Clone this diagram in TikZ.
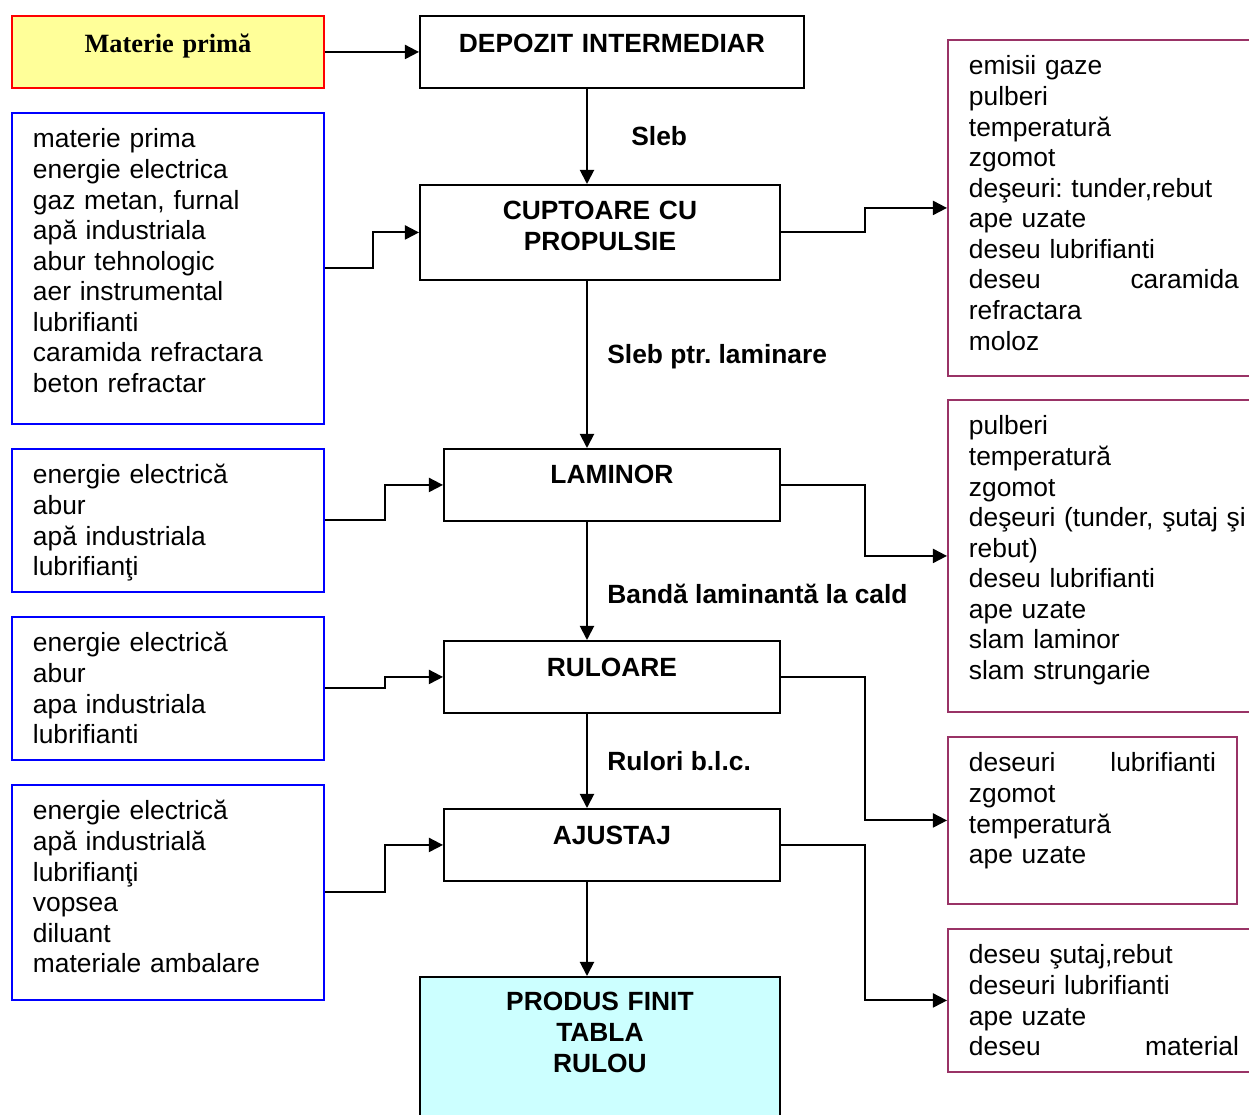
\documentclass[tikz,border=0pt]{standalone}
\usepackage{fontspec}
\setmainfont{Liberation Sans}
\newfontfamily\timesfont{Liberation Serif}
\usetikzlibrary{arrows.meta}

\definecolor{rawfill}{HTML}{FFFF99}
\definecolor{endfill}{HTML}{CCFFFF}
\definecolor{wastecol}{HTML}{993366}

\begin{document}
\frenchspacing
\begin{tikzpicture}[x=0.02cm, y=-0.02cm]
  \tikzset{
    every node/.style={font=\fontsize{15}{17.4}\selectfont},
    stage/.style={draw, line width=1.1pt, anchor=north west, inner sep=0pt,
      align=center, font=\fontsize{15}{17.4}\selectfont\bfseries},
    inbox/.style={draw=blue, line width=1.1pt, anchor=north west, inner xsep=0.42cm,
      inner ysep=0pt, align=left, text width=5.4cm, text height=0.7cm},
    outbox/.style={draw=wastecol, line width=1.1pt, anchor=north west, inner xsep=0.42cm,
      inner ysep=0pt, align=left, text width=5.4cm, text height=0.7cm},
    flowlabel/.style={anchor=base west, inner sep=0pt, font=\fontsize{15}{17.4}\selectfont\bfseries},
    myarrow/.style={-{Triangle[length=8pt, width=8pt]}, line width=1.1pt},
  }
  \useasboundingbox (0,0) rectangle (1249,1115);

  % main line
  \node[stage, fill=rawfill, draw=red, text width=6.24cm, text height=0.74cm, text depth=0.70cm,
    font=\timesfont\fontsize{15}{17.4}\selectfont\bfseries] (raw) at (11,15) {Materie primă};
  \node[stage, text width=7.68cm, text height=0.74cm, text depth=0.70cm] (depozit) at (419,15) {DEPOZIT INTERMEDIAR};
  \node[stage, text width=7.2cm, text height=0.70cm, text depth=1.2cm] (cuptor) at (419,184) {CUPTOARE CU\\PROPULSIE};
  \node[stage, text width=6.72cm, text height=0.70cm, text depth=0.74cm] (laminor) at (443,448) {LAMINOR};
  \node[stage, text width=6.72cm, text height=0.72cm, text depth=0.72cm] (ruloare) at (443,640) {RULOARE};
  \node[stage, text width=6.72cm, text height=0.72cm, text depth=0.72cm] (ajustaj) at (443,808) {AJUSTAJ};
  \node[stage, fill=endfill, text width=7.2cm, text height=0.68cm, text depth=3.2cm] (produs) at (419,976) {PRODUS FINIT\\TABLA\\RULOU};

  % inputs
  \node[inbox, text depth=5.52cm] (in1) at (11,112) {materie prima\\energie electrica\\gaz metan, furnal\\apă industriala\\abur tehnologic\\aer instrumental\\lubrifianti\\caramida refractara\\beton refractar};
  \node[inbox, text depth=2.16cm] (in2) at (11,448) {energie electrică\\abur\\apă industriala\\lubrifianţi};
  \node[inbox, text depth=2.16cm] (in3) at (11,616) {energie electrică\\abur\\apa industriala\\lubrifianti};
  \node[inbox, text depth=3.6cm] (in4) at (11,784) {energie electrică\\apă industrială\\lubrifianţi\\vopsea\\diluant\\materiale ambalare};

  % outputs
  \node[outbox, text depth=6.02cm] (out1) at (947,39) {emisii gaze\\pulberi\\temperatură\\zgomot\\deşeuri: tunder,rebut\\ape uzate\\deseu lubrifianti\\deseu\hfill caramida\\refractara\\moloz};
  \node[outbox, text width=5.7cm, text depth=5.54cm] (out2) at (947,399) {pulberi\\temperatură\\zgomot\\deşeuri (tunder, şutaj şi\\rebut)\\deseu lubrifianti\\ape uzate\\slam laminor\\slam strungarie};
  \node[outbox, text width=4.94cm, text depth=2.64cm] (out3) at (947,736) {deseuri\hfill lubrifianti\\zgomot\\temperatură\\ape uzate};
  \node[outbox, text depth=2.16cm] (out4) at (947,928) {deseu şutaj,rebut\\deseuri lubrifianti\\ape uzate\\deseu\hfill material};

  % labels on the main line
  \node[flowlabel] (sleb) at (631,146) {Sleb};
  \node[flowlabel] (slebptr) at (607,363) {Sleb ptr. laminare};
  \node[flowlabel] (banda) at (607,603) {Bandă laminantă la cald};
  \node[flowlabel] (rulori) at (607,770) {Rulori b.l.c.};

  \coordinate (spine) at (587,0);

  \draw[myarrow] (raw.east) -- (depozit.west);
  \draw[myarrow] (depozit.south -| spine) -- (cuptor.north -| spine);
  \draw[myarrow] (cuptor.south -| spine) -- (laminor.north -| spine);
  \draw[myarrow] (laminor.south -| spine) -- (ruloare.north -| spine);
  \draw[myarrow] (ruloare.south -| spine) -- (ajustaj.north -| spine);
  \draw[myarrow] (ajustaj.south -| spine) -- (produs.north -| spine);

  \draw[myarrow] (in1.east) -- ++(48,0) |- (cuptor.west);
  \draw[myarrow] (in2.east) -- ++(60,0) |- (laminor.west);
  \draw[myarrow] (in3.east) -- ++(60,0) |- (ruloare.west);
  \draw[myarrow] (in4.east) -- ++(60,0) |- (ajustaj.west);

  \draw[myarrow] (cuptor.east) -- ++(84,0) |- (out1.west);
  \draw[myarrow] (laminor.east) -- ++(84,0) |- (out2.west);
  \draw[myarrow] (ruloare.east) -- ++(84,0) |- (out3.west);
  \draw[myarrow] (ajustaj.east) -- ++(84,0) |- (out4.west);

\end{tikzpicture}
\end{document}
